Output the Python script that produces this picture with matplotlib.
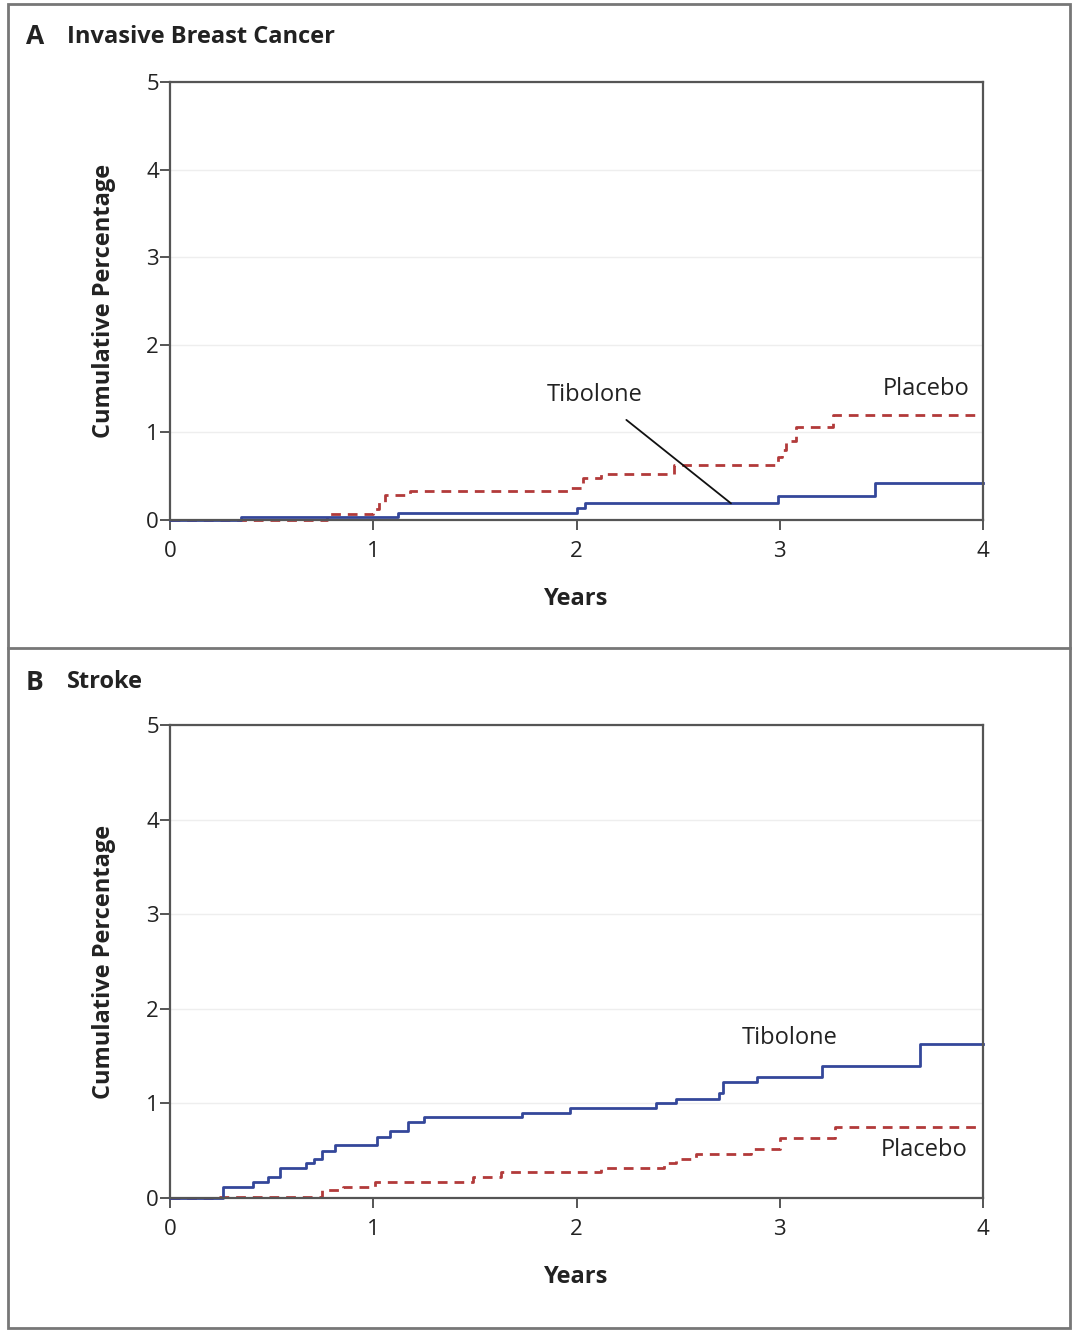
import numpy as np
import matplotlib.pyplot as plt
from matplotlib.patches import Rectangle
from matplotlib.lines import Line2D

plt.rcParams['font.family'] = ['Open Sans', 'DejaVu Sans']

# panel A: invasive breast cancer (years, cumulative %)
a_tib_t = [0, 0.35, 1.12, 2.0, 2.04, 2.99, 3.47, 4.0]
a_tib_y = [0, 0.03, 0.08, 0.14, 0.19, 0.27, 0.42, 0.42]
a_pla_t = [0, 0.77, 1.0, 1.03, 1.06, 1.18, 1.97, 2.03, 2.12, 2.48, 2.99, 3.01, 3.03, 3.08, 3.26, 4.0]
a_pla_y = [0, 0.07, 0.12, 0.2, 0.28, 0.33, 0.37, 0.48, 0.52, 0.63, 0.72, 0.8, 0.9, 1.06, 1.2, 1.2]

# panel B: stroke
b_tib_t = [0, 0.26, 0.41, 0.48, 0.54, 0.67, 0.71, 0.75, 0.81, 1.02, 1.08, 1.17, 1.25, 1.73, 1.97,
           2.39, 2.49, 2.70, 2.72, 2.89, 3.21, 3.69, 4.0]
b_tib_y = [0, 0.12, 0.17, 0.22, 0.32, 0.37, 0.41, 0.5, 0.56, 0.65, 0.71, 0.8, 0.86, 0.9, 0.95,
           1.0, 1.05, 1.11, 1.23, 1.28, 1.40, 1.63, 1.63]
b_pla_t = [0, 0.23, 0.75, 0.85, 1.01, 1.49, 1.63, 2.12, 2.43, 2.49, 2.59, 2.86, 3.0, 3.27, 4.0]
b_pla_y = [0, 0.01, 0.08, 0.12, 0.17, 0.22, 0.27, 0.32, 0.37, 0.41, 0.46, 0.52, 0.63, 0.75, 0.75]

yticks = [0, 1, 2, 3, 4, 5]
xticks = [0, 1, 2, 3, 4]

blue = '#34479a'
red = '#b23a3a'
edge = '#555555'
txt = '#222222'

fig = plt.figure(figsize=(10.75, 13.3), dpi=100)

# outer frame and divider between panels
fig.patches.append(Rectangle((8/1075, 2/1330), 1062/1075, 1324/1330, transform=fig.transFigure,
                             fill=False, ec='#777777', lw=2))
fig.lines.append(Line2D([8/1075, 1070/1075], [1-648/1330, 1-648/1330], transform=fig.transFigure,
                        color='#777777', lw=2))

fig.text(26/1075, 1-37/1330, 'A', fontsize=19, fontweight='bold', va='center', color=txt)
fig.text(67/1075, 1-37/1330, 'Invasive Breast Cancer', fontsize=17, fontweight='bold', va='center', color=txt)
fig.text(26/1075, 1-682/1330, 'B', fontsize=19, fontweight='bold', va='center', color=txt)
fig.text(67/1075, 1-682/1330, 'Stroke', fontsize=17, fontweight='bold', va='center', color=txt)

axA = fig.add_axes([170/1075, 1-520/1330, 813/1075, 438/1330])
axB = fig.add_axes([170/1075, 1-1198/1330, 813/1075, 473/1330])


def style(ax):
    ax.set_xlim(0, 4)
    ax.set_ylim(0, 5)
    ax.set_xticks(xticks)
    ax.set_yticks(yticks)
    for s in ax.spines.values():
        s.set_color(edge)
        s.set_linewidth(1.6)
    ax.tick_params(direction='out', length=7, width=1.4, color=edge, labelsize=16, labelcolor=txt)
    ax.tick_params(axis='x', pad=8)
    ax.tick_params(axis='y', pad=1)
    ax.grid(axis='y', color='#eeeeee', lw=1)
    ax.set_axisbelow(True)
    ax.set_xlabel('Years', fontsize=17, fontweight='bold', labelpad=18, color=txt)
    ax.set_ylabel('Cumulative Percentage', fontsize=17, fontweight='bold', labelpad=22, color=txt)


style(axA)
style(axB)

axA.step(a_pla_t, a_pla_y, where='post', color=red, lw=2, dashes=(3.5, 2.5), clip_on=False)
axA.step(a_tib_t, a_tib_y, where='post', color=blue, lw=2, clip_on=False)
axA.annotate('Tibolone', xy=(2.76, 0.19), xytext=(2.09, 1.43), fontsize=17, ha='center', va='center',
             color=txt, arrowprops=dict(arrowstyle='-', color='#111111', lw=1.3, shrinkA=12, shrinkB=0))
axA.text(3.72, 1.5, 'Placebo', fontsize=17, ha='center', va='center', color=txt)

axB.step(b_pla_t, b_pla_y, where='post', color=red, lw=2, dashes=(3.5, 2.5), clip_on=False)
axB.step(b_tib_t, b_tib_y, where='post', color=blue, lw=2, clip_on=False)
axB.text(3.05, 1.69, 'Tibolone', fontsize=17, ha='center', va='center', color=txt)
axB.text(3.71, 0.51, 'Placebo', fontsize=17, ha='center', va='center', color=txt)

fig.savefig('out.png', dpi=100)
